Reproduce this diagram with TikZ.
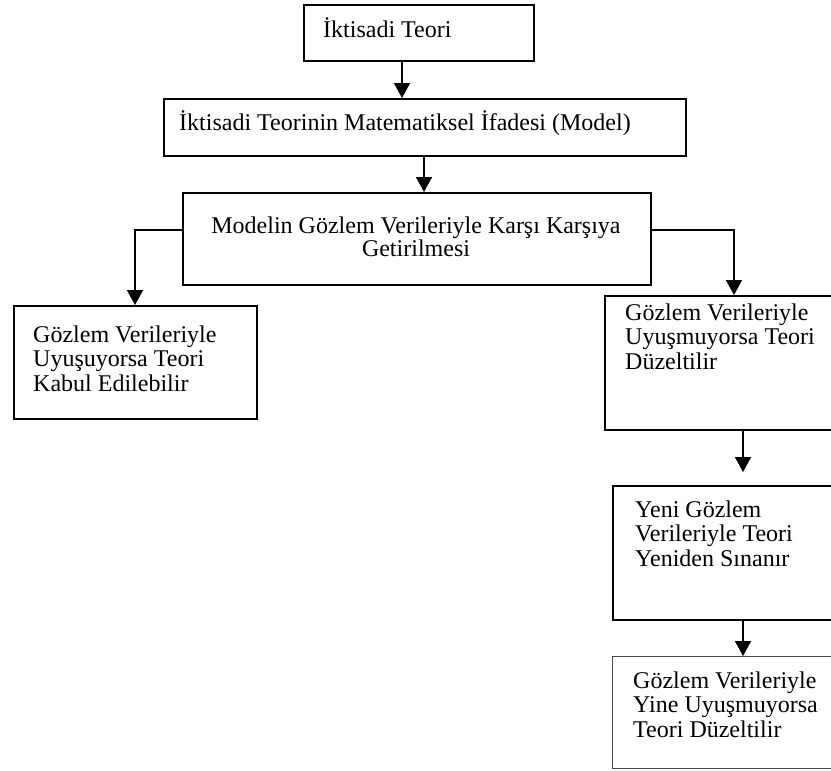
\documentclass[tikz,border=0pt]{standalone}
\usepackage{fontspec}
\setmainfont{Liberation Serif}
\usetikzlibrary{arrows.meta}
\newcommand\leftlines[1]{\begin{tabular}[t]{@{}l@{}}#1\end{tabular}}
\newcommand\centerlines[1]{\begin{tabular}[t]{@{}c@{}}#1\end{tabular}}
\begin{document}
\begin{tikzpicture}[x=1pt,y=-1pt,
  box/.style={draw, line width=1.8pt, rectangle, inner sep=0pt, anchor=north west},
  lightbox/.style={box, line width=1.2pt, draw=black!70},
  txt/.style={anchor=base west, inner sep=0pt, font=\fontsize{24}{24.5}\selectfont},
  ctxt/.style={anchor=base, inner sep=0pt, font=\fontsize{24}{22}\selectfont},
  arr/.style={line width=1.6pt, -{Triangle[length=15pt,width=16pt]}}]
\useasboundingbox (0,0) rectangle (831,771);
% boxes
\node[box, minimum width=230pt, minimum height=56pt] (b1) at (303,4) {};
\node[box, minimum width=522pt, minimum height=57pt] (b2) at (163,98) {};
\node[box, minimum width=468pt, minimum height=92pt] (b3) at (182,192) {};
\node[box, minimum width=243pt, minimum height=113pt] (b4) at (13,305) {};
\node[box, minimum width=232pt, minimum height=134pt] (b5) at (604,295) {};
\node[box, minimum width=225pt, minimum height=134pt] (b6) at (612,485) {};
\node[lightbox, minimum width=225pt, minimum height=112pt] (b7) at (612,656) {};
% texts
\node[txt] (t1) at (323,37) {İktisadi Teori};
\node[txt] (t2) at (179,130) {İktisadi Teorinin Matematiksel İfadesi (Model)};
\node[ctxt] (t3) at (416,233) {\centerlines{Modelin Gözlem Verileriyle Karşı Karşıya\\Getirilmesi}};
\node[txt] (t4) at (33,342) {\leftlines{Gözlem Verileriyle\\Uyuşuyorsa Teori\\Kabul Edilebilir}};
\node[txt] (t5) at (625,320) {\leftlines{Gözlem Verileriyle\\Uyuşmuyorsa Teori\\Düzeltilir}};
\node[txt] (t6) at (635,517) {\leftlines{Yeni Gözlem\\Verileriyle Teori\\Yeniden Sınanır}};
\node[txt] (t7) at (633,688) {\leftlines{Gözlem Verileriyle\\Yine Uyuşmuyorsa\\Teori Düzeltilir}};
% connectors
\coordinate (e56) at (743,472);
\draw[arr] (402,0 |- b1.south) -- (402,0 |- b2.north);
\draw[arr] (424,0 |- b2.south) -- (424,0 |- b3.north);
\draw[arr] (b3.west |- 0,230) -- (135,230) -- (135,0 |- b4.north);
\draw[arr] (b3.east |- 0,230) -- (734,230) -- (734,0 |- b5.north);
\draw[arr] (743,0 |- b5.south) -- (e56);
\draw[arr] (743,0 |- b6.south) -- (743,0 |- b7.north);
\end{tikzpicture}
\end{document}
